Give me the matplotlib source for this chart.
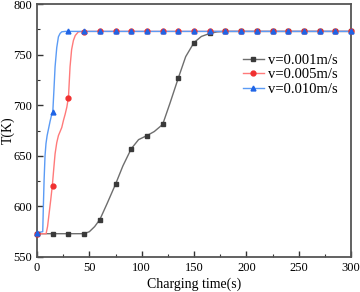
import matplotlib
matplotlib.use("Agg")
import matplotlib.pyplot as plt
from matplotlib.ticker import MultipleLocator

plt.rcParams['font.family'] = ['Liberation Serif', 'DejaVu Serif']

# Marker samples (every 15 s)
t_mark = [0, 15, 30, 45, 60, 75, 90, 105, 120, 135, 150, 165, 180, 195, 210,
          225, 240, 255, 270, 285, 300]
T_001_mark = [573, 573, 573, 573, 587, 622, 657, 670, 681, 727, 762, 771, 773,
              773, 773, 773, 773, 773, 773, 773, 773]
T_005_mark = [573, 620, 707, 772, 773, 773, 773, 773, 773, 773, 773, 773, 773,
              773, 773, 773, 773, 773, 773, 773, 773]
T_010_mark = [574, 693, 773, 773, 773, 773, 773, 773, 773, 773, 773, 773, 773,
              773, 773, 773, 773, 773, 773, 773, 773]

# Curve samples
t_001_line = [0, 45, 50, 55, 60, 67, 75, 82, 90, 97, 105, 112, 120, 127, 135,
              142, 150, 157, 165, 172, 180, 300]
T_001_line = [573, 573, 575, 580, 587, 603, 622, 640, 657, 666, 670, 674, 681,
              702, 727, 748, 762, 768, 771, 772.5, 773, 773]

t_005_line = [0, 8.6, 10, 11.5, 13, 14.6, 16, 17.2, 18.8, 20.4, 22, 23.6, 25.2,
              26.8, 28.4, 30, 31.5, 33, 34.7, 36.5, 39.5, 45, 300]
T_005_line = [573, 573, 580, 593, 606, 621, 638, 652, 663, 670, 674, 678, 685,
              691, 698, 708, 738, 755, 764, 769, 772.6, 773, 773]

t_010_line = [0, 5.4, 6.0, 6.7, 7.6, 8.5, 9.6, 10.8, 12.4, 14, 15, 16.1, 17.2,
              18.8, 20.4, 22, 23.6, 27, 30, 300]
T_010_line = [574, 575, 600, 626, 650, 662, 670, 676, 684, 691, 693, 715, 738,
              757, 767.7, 771, 772.6, 773, 773, 773]

labels = ["v=0.001m/s", "v=0.005m/s", "v=0.010m/s"]

fig = plt.figure(figsize=(3.6, 2.92), dpi=100)
ax = fig.add_axes([0.103, 0.12, 0.872, 0.866])

series = [
    (t_001_line, T_001_line, T_001_mark, '#6e6e6e', '#3a3a3a', 's'),
    (t_005_line, T_005_line, T_005_mark, '#ff7a7a', '#f03030', 'o'),
    (t_010_line, T_010_line, T_010_mark, '#5b9bf5', '#1f64e6', '^'),
]
for (tl, Tl, Tm, lc, mc, mk), lab in zip(series, labels):
    ax.plot(tl, Tl, color=lc, lw=1.0, zorder=2)
    ax.plot(t_mark, Tm, ls='none', marker=mk, color=mc, ms=3.5, zorder=3,
            clip_on=False)
    ax.plot([], [], color=lc, lw=1.0, marker=mk, mfc=mc, mec=mc, ms=3.5,
            label=lab)

ax.set_xlim(0, 300)
ax.set_ylim(550, 800)
ax.xaxis.set_major_locator(MultipleLocator(50))
ax.xaxis.set_minor_locator(MultipleLocator(25))
ax.yaxis.set_major_locator(MultipleLocator(50))
ax.yaxis.set_minor_locator(MultipleLocator(25))
ax.tick_params(which='both', direction='in', top=False, right=False,
               labelsize=9, color='#333333')
ax.tick_params(which='major', length=4, width=1)
ax.tick_params(which='minor', length=2, width=0.8)
for s in ax.spines.values():
    s.set_color('#555555')
    s.set_linewidth(1.3)

ax.set_xlabel("Charging time(s)", fontsize=10, labelpad=3)
ax.set_ylabel("T(K)", fontsize=10)
ax.yaxis.set_label_coords(-0.07, 0.5)

ax.legend(loc='upper right', bbox_to_anchor=(0.99, 0.845), frameon=False,
          fontsize=10.5, handlelength=1.45, handletextpad=0.3,
          labelspacing=0.1, borderpad=0.2)

fig.savefig("out.png", dpi=100)
